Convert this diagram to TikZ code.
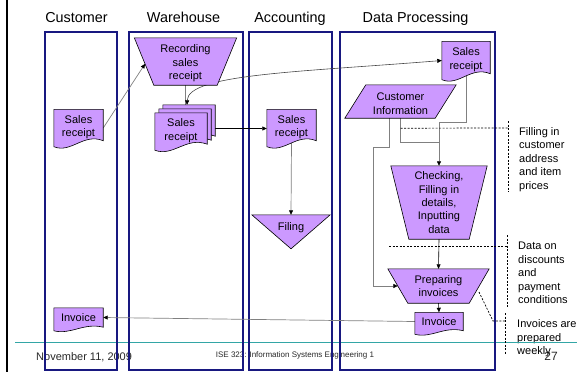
\documentclass[tikz,border=0pt]{standalone}
\usepackage{fontspec}
\setmainfont{Liberation Sans}
\usetikzlibrary{calc,arrows.meta}

\pgfdeclarelayer{footer}
\pgfdeclarelayer{lanes}
\pgfdeclarelayer{links}
\pgfdeclarelayer{outlines}
\pgfsetlayers{footer,lanes,links,outlines,main}

\definecolor{lanecol}{RGB}{24,24,128}
\definecolor{shapecol}{RGB}{204,153,255}
\definecolor{rulecol}{RGB}{51,166,166}
\definecolor{linkgray}{RGB}{128,128,128}
\definecolor{curvegray}{RGB}{70,70,70}
\definecolor{footgray}{RGB}{40,40,40}

% extra room above the first line, lowers the text a little inside its symbol
\newcommand\topgap{\rule{0pt}{12pt}}

% document symbol: rectangle with a wavy lower edge
% #1 node, #2/#3 offset, #4 wave amplitude factor
\newcommand\docoutline[4]{%
  \path[outline]
    ($(#1.north west)+(#2,#3)$) -- ($(#1.north east)+(#2,#3)$) -- ($(#1.south east)+(#2,#3)$)
    .. controls ($(#1.south east)!0.4!(#1.south west)+(#2,#3-8*#4)$)
           and ($(#1.south east)!0.65!(#1.south west)+(#2,#3+13*#4)$)
    .. ($(#1.south west)+(#2,#3+6*#4)$) -- cycle;}

% manual operation: trapezoid wider at the top, #2 = overhang per side
\newcommand\manualop[2]{%
  \path[outline] (#1.south west) -- (#1.south east)
    -- ($(#1.north east)+(#2,0)$) -- ($(#1.north west)+(-#2,0)$) -- cycle;}

\begin{document}
\begin{tikzpicture}[x=1pt,y=-1pt,
  every node/.style={font=\fontsize{11}{13.4}\selectfont},
  txt/.style={inner sep=0pt, align=center},
  outline/.style={fill=shapecol, draw=black, line width=0.6pt},
  lanebox/.style={draw=lanecol, line width=1.6pt},
  head/.style={inner sep=0pt, anchor=base, font=\fontsize{14.4}{17}\selectfont},
  tip/.style={-{Triangle[color=black,length=4.5pt,width=4pt]}},
  flowgray/.style={draw=linkgray, line width=0.7pt, tip},
  flowblack/.style={draw=black, line width=0.6pt, tip},
  plaingray/.style={draw=linkgray, line width=0.7pt},
  lead/.style={draw=black, line width=0.7pt, dash pattern=on 2pt off 1.5pt},
  note/.style={inner sep=0pt, align=left, anchor=west}
]
\useasboundingbox (0,0) rectangle (577,372);

% ---------- footer ----------
\begin{pgfonlayer}{footer}
  \node[anchor=base west, inner sep=0pt, text=footgray] (date) at (36,360) {November 11, 2009};
  \node[anchor=base, inner sep=0pt, text=footgray, font=\fontsize{8}{9}\selectfont] (course) at (295,357)
    {ISE 323: Information Systems Engineering 1};
  \node[anchor=base, inner sep=0pt, text=footgray, font=\fontsize{12}{14}\selectfont] (page) at (551,360) {27};
  \node[note] (note3) at (517,338.5) {Invoices are\\prepared\\weekly};
\end{pgfonlayer}

% ---------- swim lanes ----------
\begin{pgfonlayer}{lanes}
  \draw[rulecol, line width=1pt] (15,342) -- (577,342);
  \draw[line width=2pt] (7,0) -- (7,372);
  \draw[lanebox] (45,32) rectangle (117,370);
  \draw[lanebox] (129,32) rectangle (243,370);
  \draw[lanebox] (249,32) rectangle (332,370);
  \draw[lanebox] (340,32) rectangle (495,370);
\end{pgfonlayer}

\node[head] (hCust) at (76.5,22.3) {Customer};
\node[head] (hWare) at (183.5,22.3) {Warehouse};
\node[head] (hAcct) at (290,22.3) {Accounting};
\node[head] (hDP) at (415.5,22.3) {Data Processing};

% ---------- symbols ----------
\node[txt, minimum width=49pt, minimum height=31pt] (custSR) at (78.5,125) {\topgap Sales\\receipt};
\node[txt, minimum width=63pt, minimum height=47pt] (rec) at (185.5,61.5) {\topgap Recording\\sales\\receipt};
\node[txt, minimum width=52pt, minimum height=31pt] (wareSR) at (181,128.5) {\topgap Sales\\receipt};
\node[txt, minimum width=49pt, minimum height=31pt] (acctSR) at (291.5,125) {\topgap Sales\\receipt};
\node[txt, minimum width=78pt, minimum height=22pt] (filing) at (291,226) {\topgap Filing};
\node[txt, minimum width=48pt, minimum height=32pt] (dpSR) at (466,57.5) {\topgap Sales\\receipt};
\node[txt, minimum width=90pt, minimum height=33pt] (cinfo) at (400.5,101.5) {\topgap Customer\\Information};
\node[txt, minimum width=60pt, minimum height=73pt] (chk) at (439,202.5)
  {Checking,\\Filling in\\details,\\Inputting\\data};
\node[txt, minimum width=61pt, minimum height=34pt] (prep) at (438.5,286) {Preparing\\invoices};
\node[txt, minimum width=48pt, minimum height=18pt] (dpInv) at (439,321.5) {Invoice};
\node[txt, minimum width=49pt, minimum height=19pt] (custInv) at (78.5,317.5) {Invoice};

\node[note] (note1) at (519,159.5) {Filling in\\customer\\address\\and item\\prices};
\node[note] (note2) at (518,273) {Data on\\discounts\\and\\payment\\conditions};

\begin{pgfonlayer}{outlines}
  \docoutline{custSR}{0}{0}{1}
  \manualop{rec}{19.5}
  \docoutline{wareSR}{8}{-8}{1}
  \docoutline{wareSR}{4}{-4}{1}
  \docoutline{wareSR}{0}{0}{1}
  \docoutline{acctSR}{0}{0}{1}
  \path[outline] (filing.north west) -- (filing.north east) -- ($(filing.north)+(0,34)$) -- cycle;
  \docoutline{dpSR}{0}{0}{1}
  \path[outline] ($(cinfo.north west)+(10.5,0)$) -- ($(cinfo.north east)+(10.5,0)$)
    -- ($(cinfo.south east)+(-10.5,0)$) -- ($(cinfo.south west)+(-10.5,0)$) -- cycle;
  \manualop{chk}{18}
  \manualop{prep}{20}
  \docoutline{dpInv}{0}{0}{0.6}
  \docoutline{custInv}{0}{0}{0.6}
\end{pgfonlayer}

% ---------- connection points ----------
\coordinate (recTL) at ($(rec.north west)+(-19.5,0)$);
\coordinate (recIn) at ($(recTL)!0.55!(rec.south west)$);
\coordinate (wareBack) at ($(wareSR.north)+(8,-8)$);
\coordinate (wareOut) at ($(wareSR.east)+(8,0)$);
\coordinate (prepTL) at ($(prep.north west)+(-20,0)$);
\coordinate (prepIn) at ($(prepTL)!0.5!(prep.south west)$);

% ---------- flows ----------
\begin{pgfonlayer}{links}
  \draw[flowgray] ($(custSR.east)+(0,3)$) -- (recIn);
  \draw[plaingray] (rec.south) -- (rec.south |- wareBack);
  \draw[draw=curvegray, line width=0.6pt,
        {Triangle[color=black,length=4.5pt,width=4pt]}-{Triangle[color=black,length=4.5pt,width=4pt]}]
    ($(wareSR.north)+(6,-8)$) .. controls (188,74) and (300,72) .. ($(dpSR.west)+(0,3)$);
  \draw[flowblack] (wareOut) -- (wareOut -| acctSR.west);
  \draw[flowgray] (acctSR.south) -- (filing.north);

  \draw[flowgray] (dpSR.south) |- ($(chk.north)+(0,-43)$) -- (chk.north);
  \draw[plaingray] (cinfo.south) |- ($(chk.north)+(0,-23)$);
  \draw[flowgray] ($(cinfo.south)+(-11,0)$) -- ++(0,29) -- ++(-16,0) |- (prepIn);
  \draw[flowblack] (chk.south) -- (prep.north);
  \draw[flowblack] (prep.south) -- (dpInv.north);
  \draw[flowgray] (dpInv.west) -- (custInv.east);

  % annotation leaders
  \draw[lead] ($(cinfo.south)+(0,10)$) -- (508,128);
  \draw[lead] (508,121) -- (508,192);
  \draw[lead] (389,246) -- (507,246);
  \draw[lead] (507,235) -- (507,307);
  \draw[lead] (479,292) -- (493,321) -- (505,321);
  \draw[lead] (505,313) -- (505,354);
\end{pgfonlayer}
\end{tikzpicture}
\end{document}
